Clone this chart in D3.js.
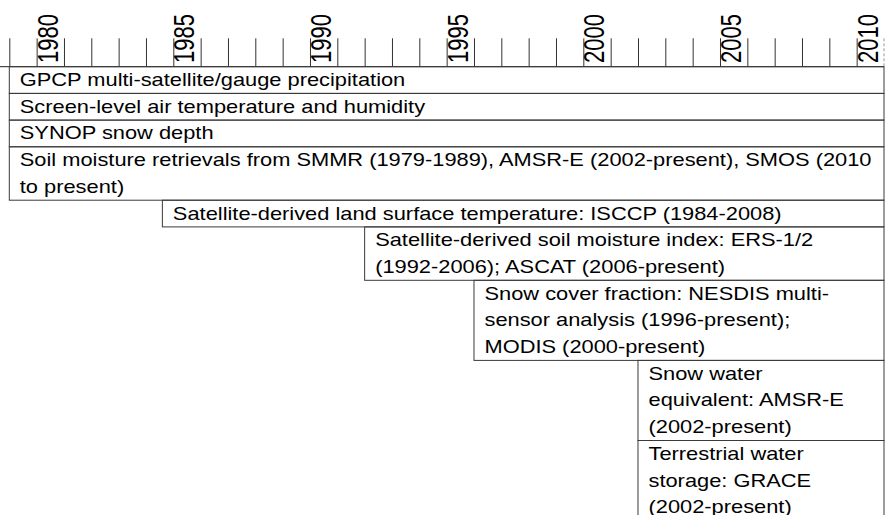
<!DOCTYPE html>
<html>
<head>
<meta charset="utf-8">
<script src="https://cdn.jsdelivr.net/npm/d3@7"></script>
<style>
  body { margin: 0; background: #fff; }
  svg { display: block; }
</style>
</head>
<body>
<svg id="chart" width="885" height="515"></svg>
<script>
// ---- data ----
const datasetLines = [
  ["GPCP multi-satellite/gauge precipitation"],
  ["Screen-level air temperature and humidity"],
  ["SYNOP snow depth"],
  ["Soil moisture retrievals from SMMR (1979-1989), AMSR-E (2002-present), SMOS (2010", "to present)"],
  ["Satellite-derived land surface temperature: ISCCP (1984-2008)"],
  ["Satellite-derived soil moisture index: ERS-1/2", "(1992-2006); ASCAT (2006-present)"],
  ["Snow cover fraction: NESDIS multi-", "sensor analysis (1996-present);", "MODIS (2000-present)"],
  ["Snow water", "equivalent: AMSR-E", "(2002-present)"],
  ["Terrestrial water", "storage: GRACE", "(2002-present)"]
];
const startYears = [1979, 1979, 1979, 1979, 1984.6, 1992, 1996, 2002, 2002];
const axisStart = 1979;
const axisEnd = 2011;
const tickYears = d3.range(1979, 2011);
const labelYears = [1980, 1985, 1990, 1995, 2000, 2005, 2010];

// ---- layout ----
const svg = d3.select("#chart");
const font = "'Liberation Sans', Arial, Helvetica, sans-serif";
const x = d3.scaleLinear().domain([axisStart, axisEnd]).range([9.3, 884]);
const axisY = 66.7;
const lineH = 26.7;
const yLines = d3.scaleLinear().domain([0, 1]).range([axisY, axisY + lineH]);

// axis baseline (extends to left edge)
svg.append("line")
  .attr("x1", 0).attr("x2", x(axisEnd))
  .attr("y1", axisY).attr("y2", axisY)
  .attr("stroke", "#222").attr("stroke-width", 1);

// ticks via d3 axis
const axis = d3.axisTop(x)
  .tickValues(tickYears)
  .tickSize(28.4)
  .tickSizeOuter(0)
  .tickFormat("");
const gAxis = svg.append("g").attr("transform", `translate(0,${axisY})`).call(axis);
gAxis.select(".domain").remove();
gAxis.selectAll(".tick line").attr("stroke", "#333");

// dashed end tick
svg.append("line")
  .attr("x1", x(axisEnd)).attr("x2", x(axisEnd))
  .attr("y1", axisY - 28.4).attr("y2", axisY)
  .attr("stroke", "#999").attr("stroke-dasharray", "3,2");

// year labels (rotated)
svg.append("g").selectAll("text")
  .data(labelYears).join("text")
  .attr("transform", d => `translate(${x(d) + 21},63) scale(1.3,1) rotate(-90)`)
  .attr("font-family", font)
  .attr("font-size", 22)
  .attr("fill", "#000")
  .text(d => String(d));

// boxes
let cum = 0;
const rows = datasetLines.map((lines, i) => {
  const r = { lines, start: startYears[i], l0: cum };
  cum += lines.length;
  return r;
});

const gBoxes = svg.append("g");
rows.forEach(r => {
  const x0 = x(r.start);
  const y0 = yLines(r.l0);
  const y1 = yLines(r.l0 + r.lines.length);
  gBoxes.append("rect")
    .attr("x", x0).attr("y", y0)
    .attr("width", x(axisEnd) - x0).attr("height", y1 - y0)
    .attr("fill", "none")
    .attr("stroke", "#3a3a3a").attr("stroke-width", 1);
  r.lines.forEach((t, k) => {
    gBoxes.append("text")
      .attr("transform", `translate(${x0 + 10.5},${y0 + 19.3 + k * lineH}) scale(1.2,1)`)
      .attr("font-family", font)
      .attr("font-size", 18.2)
      .attr("fill", "#000")
      .text(t);
  });
});
</script>
</body>
</html>
